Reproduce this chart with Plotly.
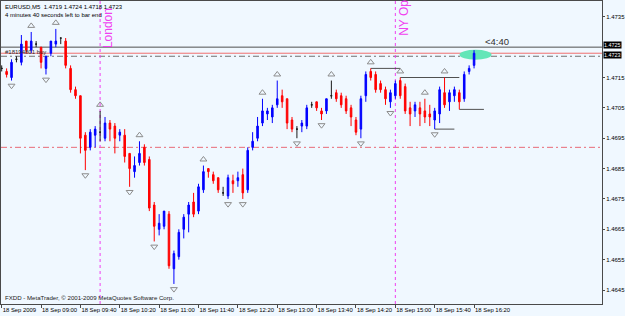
import plotly.graph_objects as go

# ---------------- data (EURUSD M5, 18 Sep 2009, bar 0 = 08:20) ----------------
opens = [1.4718, 1.4717, 1.4715, 1.4721, 1.4720, 1.4727, 1.4724, 1.4726, 1.4725, 1.4718,
         1.4723, 1.4726, 1.4728, 1.4727, 1.4718, 1.4711, 1.4709, 1.4696, 1.4692, 1.4696,
         1.4697, 1.4695, 1.4700, 1.4699, 1.4696, 1.4696, 1.4690, 1.4684, 1.4687, 1.4692,
         1.4688, 1.4673, 1.4665, 1.4666, 1.4670, 1.4652, 1.4656, 1.4665, 1.4670, 1.4674,
         1.4671, 1.4678, 1.4685, 1.4683, 1.4682, 1.4677, 1.4676, 1.4681, 1.4681, 1.4683,
         1.4678, 1.4692, 1.4695, 1.4700, 1.4703, 1.4702, 1.4706, 1.4709, 1.4708, 1.4701,
         1.4698, 1.4699, 1.4699, 1.4706, 1.4707, 1.4704, 1.4704, 1.4709, 1.4710, 1.4709,
         1.4708, 1.4705, 1.4701, 1.4698, 1.4709, 1.4717, 1.4716, 1.4713, 1.4711, 1.4707,
         1.4709, 1.4714, 1.4712, 1.4705, 1.4704, 1.4705, 1.4704, 1.4703, 1.4701, 1.4703,
         1.4710, 1.4707, 1.4709, 1.4710, 1.4708, 1.4717, 1.4719]
highs = [1.4719, 1.4718, 1.4721, 1.4722, 1.4729, 1.4727, 1.4730, 1.4727, 1.4725, 1.4722,
         1.4727, 1.4731, 1.4728, 1.4728, 1.4719, 1.4712, 1.4709, 1.4697, 1.4698, 1.4699,
         1.4704, 1.4702, 1.4701, 1.4700, 1.4698, 1.4698, 1.4690, 1.4689, 1.4694, 1.4693,
         1.4689, 1.4674, 1.4670, 1.4671, 1.4671, 1.4658, 1.4665, 1.4670, 1.4674, 1.4677,
         1.4680, 1.4686, 1.4685, 1.4684, 1.4682, 1.4679, 1.4683, 1.4683, 1.4684, 1.4685,
         1.4692, 1.4697, 1.4702, 1.4708, 1.4705, 1.4706, 1.4714, 1.4711, 1.4708, 1.4702,
         1.4699, 1.4701, 1.4706, 1.4707, 1.4707, 1.4705, 1.4708, 1.4714, 1.4711, 1.4710,
         1.4709, 1.4706, 1.4702, 1.4709, 1.4717, 1.4718, 1.4717, 1.4714, 1.4712, 1.4711,
         1.4714, 1.4715, 1.4713, 1.4707, 1.4707, 1.4707, 1.4708, 1.4706, 1.4705, 1.4712,
         1.4715, 1.4711, 1.4712, 1.4711, 1.4717, 1.4719, 1.4724]
lows = [1.4717, 1.4715, 1.4714, 1.4720, 1.4719, 1.4723, 1.4723, 1.4725, 1.4718, 1.4716,
        1.4722, 1.4725, 1.4726, 1.4718, 1.4710, 1.4708, 1.4690, 1.46845, 1.4691, 1.4692,
        1.4694, 1.4694, 1.4694, 1.4690, 1.4694, 1.4687, 1.4679, 1.4682, 1.4686, 1.4686,
        1.4671, 1.4661, 1.4663, 1.4665, 1.4652, 1.4647, 1.4655, 1.4662, 1.4664, 1.4669,
        1.4670, 1.4677, 1.4682, 1.4680, 1.4677, 1.4676, 1.4675, 1.4677, 1.4679, 1.4675,
        1.4677, 1.4691, 1.4694, 1.4699, 1.4701, 1.4700, 1.4705, 1.4705, 1.4698, 1.4697,
        1.4695, 1.4697, 1.4698, 1.4705, 1.4704, 1.4701, 1.4703, 1.4708, 1.4707, 1.4705,
        1.4703, 1.4699, 1.4696, 1.4695, 1.4707, 1.4714, 1.4710, 1.4710, 1.4706, 1.4705,
        1.4708, 1.4708, 1.4703, 1.4699, 1.4702, 1.4699, 1.4700, 1.4699, 1.4698, 1.4700,
        1.4705, 1.4704, 1.4707, 1.47045, 1.4707, 1.4716, 1.4718]
closes = [1.4718, 1.4716, 1.4720, 1.4721, 1.4726, 1.4724, 1.4727, 1.4726, 1.4720, 1.4722,
          1.4727, 1.4727, 1.4728, 1.4719, 1.4711, 1.4709, 1.4695, 1.4691, 1.4697, 1.4698,
          1.4697, 1.4700, 1.4698, 1.4695, 1.4697, 1.4689, 1.4685, 1.4686, 1.4690, 1.4687,
          1.4672, 1.4666, 1.4667, 1.4671, 1.4653, 1.4657, 1.4664, 1.4669, 1.4673, 1.4670,
          1.4679, 1.4684, 1.4684, 1.4681, 1.4678, 1.4677, 1.4682, 1.4680, 1.4682, 1.4677,
          1.4691, 1.4694, 1.4699, 1.4704, 1.4704, 1.4705, 1.4708, 1.4707, 1.4700, 1.4698,
          1.4698, 1.4700, 1.4705, 1.4706, 1.4705, 1.4703, 1.4708, 1.4709, 1.4708, 1.4706,
          1.4704, 1.4702, 1.4697, 1.4708, 1.4716, 1.4715, 1.4711, 1.4711, 1.4708, 1.4710,
          1.4713, 1.4709, 1.4704, 1.4703, 1.4706, 1.4703, 1.4702, 1.4702, 1.4704, 1.4711,
          1.4706, 1.4710, 1.4711, 1.4707, 1.4716, 1.4718, 1.4723]

time_tick_bars = [0, 8, 16, 24, 32, 40, 48, 56, 64, 72, 80, 88, 96]
time_tick_labels = ["18 Sep 2009", "18 Sep 09:00", "18 Sep 09:40", "18 Sep 10:20",
                    "18 Sep 11:00", "18 Sep 11:40", "18 Sep 12:20", "18 Sep 13:00",
                    "18 Sep 13:40", "18 Sep 14:20", "18 Sep 15:00", "18 Sep 15:40",
                    "18 Sep 16:20"]
price_ticks = [1.4645, 1.4655, 1.4665, 1.4675, 1.4685, 1.4695, 1.4705, 1.4715, 1.4725, 1.4735]

fractal_up_bars = [6, 11, 20, 28, 41, 53, 56, 67, 75, 81, 86, 90]
fractal_down_bars = [2, 9, 17, 26, 31, 35, 46, 49, 60, 65, 73, 79, 88]

ask_price = 1.4725
bid_price = 1.4723
order_price = 1.4722
order_label = "#18194801 buy"
alert_level = 1.4692
london_bar = 20
ny_bar = 80

segment_levels = [1.4718, 1.4715, 1.47045, 1.4698]
segment_start = [75, 81, 93, 88]
segment_end = [81, 93, 98, 92]

header_line1 = "EURUSD,M5  1.4719 1.4724 1.4718 1.4723"
header_line2 = "4 minutes 40 seconds left to bar end"
countdown = "<4:40"
footer = "FXDD - MetaTrader, © 2001-2009 MetaQuotes Software Corp."

# ---------------- figure ----------------
FONT = "Liberation Sans"
BG = "#F0F8FF"
FRAME = "#4a4a4a"
n = len(opens)
bars = list(range(n))

normal = [i for i in bars if opens[i] != closes[i]]
doji = [i for i in bars if opens[i] == closes[i]]

# axis ticks hidden under the highlighted price boxes are not drawn twice
axis_ticks = [t for t in price_ticks
              if all(abs(t - p) > 0.00005 for p in (ask_price, bid_price))]

fig = go.Figure()

fig.add_trace(go.Candlestick(
    x=[bars[i] for i in normal],
    open=[opens[i] for i in normal], high=[highs[i] for i in normal],
    low=[lows[i] for i in normal], close=[closes[i] for i in normal],
    increasing=dict(line=dict(color="#0000FF", width=1), fillcolor="#0000FF"),
    decreasing=dict(line=dict(color="#FF0000", width=1), fillcolor="#FF0000"),
    whiskerwidth=0, showlegend=False, hoverinfo="skip"))

fig.add_trace(go.Candlestick(
    x=[bars[i] for i in doji],
    open=[opens[i] for i in doji], high=[highs[i] for i in doji],
    low=[lows[i] for i in doji], close=[closes[i] for i in doji],
    increasing=dict(line=dict(color="#1a1a1a", width=1), fillcolor="#1a1a1a"),
    decreasing=dict(line=dict(color="#1a1a1a", width=1), fillcolor="#1a1a1a"),
    whiskerwidth=0, showlegend=False, hoverinfo="skip"))

# fractal arrows
fig.add_trace(go.Scatter(
    x=fractal_up_bars, y=[highs[i] + 0.0002 for i in fractal_up_bars],
    mode="markers", hoverinfo="skip", showlegend=False,
    marker=dict(symbol="triangle-up-open", size=6, color="#8c8c8c",
                line=dict(width=1, color="#8c8c8c"))))
fig.add_trace(go.Scatter(
    x=fractal_down_bars, y=[lows[i] - 0.00017 for i in fractal_down_bars],
    mode="markers", hoverinfo="skip", showlegend=False,
    marker=dict(symbol="triangle-down-open", size=6, color="#8c8c8c",
                line=dict(width=1, color="#8c8c8c"))))

shapes = []
# full-width price lines
shapes.append(dict(type="line", xref="paper", x0=0, x1=1, yref="y", y0=ask_price, y1=ask_price,
                   line=dict(color="#505050", width=1), layer="below"))
shapes.append(dict(type="line", xref="paper", x0=0, x1=1, yref="y", y0=bid_price, y1=bid_price,
                   line=dict(color="#F07070", width=1), layer="below"))
shapes.append(dict(type="line", xref="paper", x0=0, x1=1, yref="y", y0=order_price, y1=order_price,
                   line=dict(color="#707070", width=1, dash="6px,3px,2px,3px"), layer="below"))
shapes.append(dict(type="line", xref="paper", x0=0, x1=1, yref="y", y0=alert_level, y1=alert_level,
                   line=dict(color="#E86A78", width=1, dash="6px,3px,2px,3px"), layer="below"))
# session lines
for b in (london_bar, ny_bar):
    shapes.append(dict(type="line", xref="x", x0=b, x1=b, yref="paper", y0=0, y1=1,
                       line=dict(color="#F040F0", width=1, dash="dot"), layer="below"))
# fractal level segments
for lv, s, e in zip(segment_levels, segment_start, segment_end):
    shapes.append(dict(type="line", xref="x", x0=s, x1=e, yref="y", y0=lv, y1=lv,
                       line=dict(color="#505050", width=1), layer="below"))
# highlight ellipse around current bar
cx = bars[-1] + 0.3
cy = (bid_price + order_price) / 2
shapes.append(dict(type="circle", xref="x", yref="y", x0=cx - 3.25, x1=cx + 3.25,
                   y0=cy - 0.000165, y1=cy + 0.000165,
                   fillcolor="#62E6B8", line=dict(width=0), layer="below"))

annotations = []
small = dict(family=FONT, size=6.0, color="#000000")
annotations.append(dict(text=header_line1, xref="paper", yref="paper", x=0.003, y=1.0,
                        xanchor="left", yanchor="top", yshift=-1, showarrow=False, font=small))
annotations.append(dict(text=header_line2, xref="paper", yref="paper", x=0.003, y=1.0,
                        xanchor="left", yanchor="top", yshift=-9, showarrow=False, font=small))
annotations.append(dict(text=footer, xref="paper", yref="paper", x=0.003, y=0.0,
                        xanchor="left", yanchor="bottom", yshift=1, showarrow=False,
                        font=dict(family=FONT, size=6.1, color="#202020")))
annotations.append(dict(text=order_label, xref="paper", yref="y", x=0.004, y=order_price,
                        xanchor="left", yanchor="bottom", yshift=-1, showarrow=False,
                        font=dict(family=FONT, size=6, color="#303030")))
annotations.append(dict(text="London", xref="x", yref="paper", x=london_bar, y=(304 - 49) / 303,
                        xanchor="left", yanchor="bottom", textangle=-90, showarrow=False,
                        font=dict(family=FONT, size=12, color="#F040F0"), borderpad=0))
annotations.append(dict(text="NY Open", xref="x", yref="paper", x=ny_bar, y=(304 - 37) / 303,
                        xanchor="left", yanchor="bottom", textangle=-90, showarrow=False,
                        font=dict(family=FONT, size=12, color="#F040F0"), borderpad=0))
annotations.append(dict(text=countdown, xref="x", yref="y", x=97.9, y=ask_price,
                        xanchor="left", yanchor="bottom", yshift=-2, showarrow=False,
                        font=dict(family=FONT, size=9.5, color="#303030")))
for p, sh in ((ask_price, 2), (bid_price, -2)):
    annotations.append(dict(text=f"{p:.4f}", xref="paper", yref="y", x=1.0, y=p,
                            xanchor="left", yanchor="middle", xshift=1, yshift=sh, showarrow=False,
                            bgcolor="#000000", borderpad=0,
                            font=dict(family=FONT, size=5.4, color="#FFFFFF")))

fig.update_layout(
    width=625, height=316,
    margin=dict(l=1, r=23, t=1, b=12, pad=0, autoexpand=False),
    paper_bgcolor=BG, plot_bgcolor=BG,
    boxgap=0.55,
    shapes=shapes, annotations=annotations,
    showlegend=False,
    xaxis=dict(range=[-0.14, 122.0], rangeslider=dict(visible=False),
               tickmode="array", tickvals=time_tick_bars, ticktext=time_tick_labels,
               ticks="outside", ticklen=3, tickcolor=FRAME, ticklabelposition="outside right",
               tickangle=0, automargin=False,
               tickfont=dict(family=FONT, size=5.9, color="#000000"),
               showgrid=False, zeroline=False,
               showline=True, linecolor=FRAME, linewidth=1, mirror=True),
    yaxis=dict(range=[1.46404, 1.47402], side="right", automargin=False,
               tickmode="array", tickvals=axis_ticks, tickformat=".4f",
               ticks="outside", ticklen=2, tickcolor=FRAME,
               tickfont=dict(family=FONT, size=6, color="#000000"),
               showgrid=False, zeroline=False,
               showline=True, linecolor=FRAME, linewidth=1, mirror=True),
)

fig.write_html("out.html")
